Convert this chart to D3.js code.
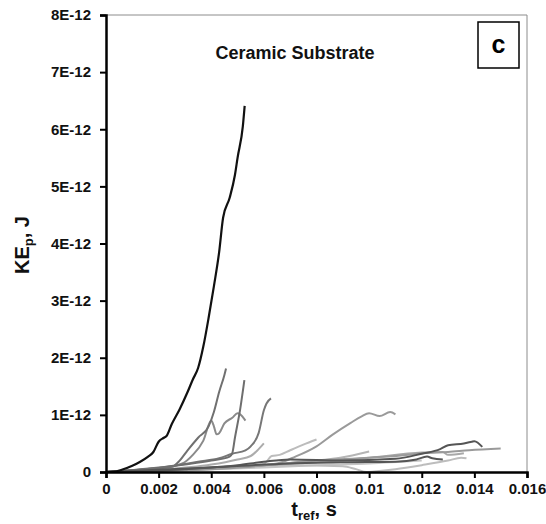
<!DOCTYPE html>
<html>
<head>
<meta charset="utf-8">
<script src="https://cdn.jsdelivr.net/npm/d3@7"></script>
<style>
  body { margin: 0; background: #fff; }
  svg text { font-family: "Liberation Sans", Arial, sans-serif; font-weight: bold; }
</style>
</head>
<body>
<div id="chart"></div>
<script>
// tick values
var xTicks = [0, 0.002, 0.004, 0.006, 0.008, 0.01, 0.012, 0.014, 0.016];
var yTicks = [0, 1e-12, 2e-12, 3e-12, 4e-12, 5e-12, 6e-12, 7e-12, 8e-12];

// series, [t (s), KE (E-12 J)]
var blackRun = [[0,0],[0.0003,0.005],[0.0006,0.04],[0.001,0.11],[0.0013,0.18],[0.0016,0.27],[0.0018,0.35],[0.002,0.53],[0.0022,0.6],[0.0023,0.63],[0.0025,0.84],[0.0028,1.1],[0.0031,1.4],[0.0033,1.62],[0.0035,1.82],[0.0037,2.2],[0.0039,2.7],[0.0041,3.25],[0.0043,3.85],[0.00445,4.45],[0.0047,4.8],[0.0049,5.2],[0.005,5.5],[0.0052,6.05],[0.00527,6.41]];
var runA = [[0,0],[0.0015,0.05],[0.0025,0.09],[0.0028,0.2],[0.0031,0.38],[0.0035,0.6],[0.0039,0.8],[0.0041,1.05],[0.0043,1.4],[0.0045,1.7],[0.00456,1.81]];
var runB = [[0,0],[0.002,0.07],[0.003,0.13],[0.004,0.2],[0.0047,0.27],[0.0048,0.33],[0.0049,0.6],[0.0051,1.1],[0.00526,1.61]];
var runC = [[0,0],[0.002,0.08],[0.0027,0.12],[0.0035,0.18],[0.0043,0.24],[0.0048,0.32],[0.0053,0.38],[0.0055,0.45],[0.0058,0.68],[0.006,1.08],[0.0061,1.2],[0.00627,1.29]];
var runD = [[0,0],[0.002,0.06],[0.0029,0.15],[0.0033,0.3],[0.0037,0.55],[0.004,0.9],[0.0041,0.8],[0.0042,0.66],[0.0043,0.68],[0.0045,0.85],[0.0048,0.95],[0.005,1.03],[0.0051,1.01],[0.0053,0.9]];
var runE = [[0,0],[0.002,0.04],[0.004,0.13],[0.005,0.22],[0.0055,0.28],[0.0058,0.4],[0.006,0.5]];
var runF = [[0,0],[0.003,0.04],[0.005,0.09],[0.006,0.14],[0.0063,0.28],[0.0066,0.3],[0.007,0.38],[0.0075,0.48],[0.008,0.57]];
var runG = [[0,0],[0.004,0.05],[0.0065,0.15],[0.0072,0.27],[0.008,0.45],[0.0086,0.65],[0.0093,0.86],[0.0097,0.97],[0.01,1.03],[0.0104,0.98],[0.0108,1.05],[0.011,1.01]];
var runH = [[0,0],[0.003,0.05],[0.005,0.12],[0.006,0.18],[0.007,0.22],[0.009,0.2],[0.011,0.23],[0.012,0.32],[0.0127,0.4],[0.013,0.47],[0.0136,0.5],[0.0139,0.53],[0.014,0.54],[0.0143,0.44]];
var runI = [[0,0],[0.003,0.05],[0.006,0.12],[0.008,0.2],[0.01,0.25],[0.0115,0.3],[0.012,0.33],[0.013,0.35],[0.0138,0.38],[0.015,0.41]];
var runJ = [[0,0],[0.004,0.08],[0.007,0.15],[0.009,0.17],[0.011,0.18],[0.0118,0.22],[0.0122,0.27],[0.0124,0.24],[0.0128,0.22]];
var runK = [[0,0],[0.004,0.07],[0.007,0.12],[0.009,0.1],[0.0095,0.05],[0.0099,0.0],[0.0102,0.01],[0.011,0.05],[0.012,0.12],[0.013,0.2],[0.0135,0.25],[0.0137,0.24]];
var runL = [[0,0],[0.003,0.05],[0.006,0.12],[0.008,0.2],[0.0089,0.25],[0.01,0.36]];
var runM = [[0,0],[0.005,0.1],[0.008,0.17],[0.01,0.25],[0.012,0.34],[0.0128,0.35],[0.013,0.3],[0.0136,0.33]];
var runN = [[0,0],[0.003,0.03],[0.006,0.08],[0.008,0.12],[0.01,0.15],[0.012,0.2]];

var runs = [
    {d: runN, c: "#c4c4c4"},
    {d: runK, c: "#bdbdbd"},
    {d: runL, c: "#b5b5b5"},
    {d: runF, c: "#bcbcbc"},
    {d: runE, c: "#acacac"},
    {d: runM, c: "#a8a8a8"},
    {d: runI, c: "#9a9a9a"},
    {d: runG, c: "#9a9a9a"},
    {d: runD, c: "#8a8a8a"},
    {d: runC, c: "#777"},
    {d: runB, c: "#6e6e6e"},
    {d: runA, c: "#707070"},
    {d: runJ, c: "#555"},
    {d: runH, c: "#555"},
    {d: blackRun, c: "#111", w: 2.2}
];

var w = 546, h = 524;
var padLeft = 106, padRight = 527, padTop = 15, padBottom = 472;

var svg = d3.select("#chart").append("svg").attr("width", w).attr("height", h);

var x = d3.scaleLinear().domain([0, 0.016]).range([padLeft, padRight]);
var y = d3.scaleLinear().domain([0, 8e-12]).range([padBottom, padTop]);

// plot frame
svg.append("path")
    .attr("d", "M" + padLeft + "," + padTop + "H" + padRight + "V" + padBottom)
    .attr("fill", "none").attr("stroke", "#8c8c8c").attr("stroke-width", 1);

var line = d3.line()
    .x(function(d) { return x(d[0]); })
    .y(function(d) { return y(d[1] * 1e-12); })
    .curve(d3.curveMonotoneX);

svg.selectAll("path.run").data(runs).enter()
    .append("path")
    .attr("class", "run")
    .attr("d", function(r) { return line(r.d); })
    .attr("fill", "none")
    .attr("stroke", function(r) { return r.c; })
    .attr("stroke-width", function(r) { return r.w || 2; })
    .attr("stroke-linejoin", "round");

var xAxis = svg.append("g")
    .attr("transform", "translate(0," + padBottom + ")")
    .call(d3.axisBottom(x).tickValues(xTicks).tickSize(6).tickPadding(5)
        .tickFormat(function(t) { return t === 0 ? "0" : String(+t.toFixed(3)); }));
var yAxis = svg.append("g")
    .attr("transform", "translate(" + padLeft + ",0)")
    .call(d3.axisLeft(y).tickValues(yTicks).tickSize(6).tickPadding(9)
        .tickFormat(function(v) { return v === 0 ? "0" : Math.round(v * 1e12) + "E-12"; }));

[xAxis, yAxis].forEach(function(g) {
    g.select(".domain").attr("stroke", "#000").attr("stroke-width", 2.5);
    g.selectAll(".tick line").attr("stroke", "#000").attr("stroke-width", 2);
    g.selectAll(".tick text").attr("fill", "#111").style("font-family", "Liberation Sans, Arial, sans-serif").style("font-weight", "bold");
});
xAxis.selectAll(".tick text").style("font-size", "15px");
yAxis.selectAll(".tick text").style("font-size", "15px");

// axis titles
var xt = svg.append("text").attr("x", 314).attr("y", 516).attr("text-anchor", "middle")
    .attr("fill", "#111").style("font-size", "20px");
xt.append("tspan").text("t");
xt.append("tspan").attr("dy", 4).style("font-size", "13px").text("ref");
xt.append("tspan").attr("dy", -4).text(", s");

var yt = svg.append("text").attr("transform", "translate(29,245) rotate(-90)").attr("text-anchor", "middle")
    .attr("fill", "#111").style("font-size", "20px");
yt.append("tspan").text("KE");
yt.append("tspan").attr("dy", 4).style("font-size", "13px").text("p");
yt.append("tspan").attr("dy", -4).text(", J");

// annotations
svg.append("text").attr("x", 295).attr("y", 59).attr("text-anchor", "middle")
    .attr("fill", "#111").style("font-size", "18px").text("Ceramic Substrate");

svg.append("rect").attr("x", 478).attr("y", 22).attr("width", 41).attr("height", 46)
    .attr("fill", "none").attr("stroke", "#000").attr("stroke-width", 1.5);
svg.append("text").attr("x", 498.5).attr("y", 53).attr("text-anchor", "middle")
    .attr("fill", "#000").style("font-size", "25px").text("c");
</script>
</body>
</html>
